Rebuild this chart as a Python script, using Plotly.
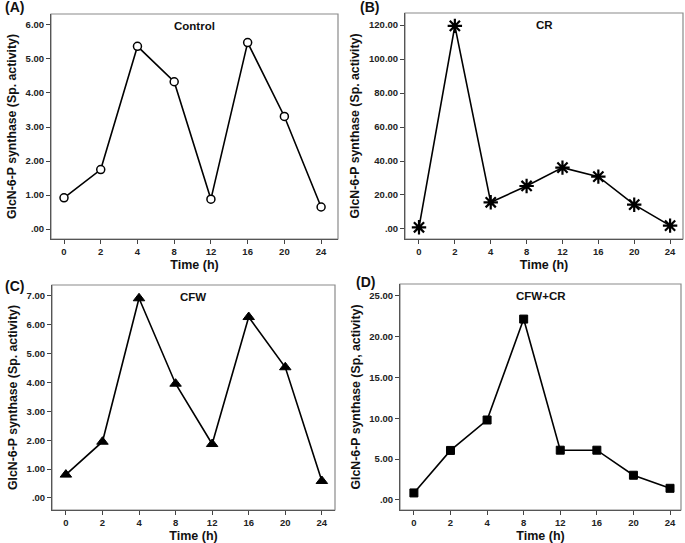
import plotly.graph_objects as go

W, H = 685, 543

times = ["0", "2", "4", "8", "12", "16", "20", "24"]
control = [0.92, 1.75, 5.37, 4.33, 0.88, 5.48, 3.31, 0.65]
cr = [1.0, 119.5, 15.7, 25.3, 36.1, 30.8, 14.3, 2.0]
cfw = [0.81, 1.95, 6.92, 3.96, 1.87, 6.27, 4.53, 0.59]
cfw_cr = [0.86, 6.07, 9.8, 22.17, 6.1, 6.1, 3.03, 1.43]

ticks_a = [0, 1, 2, 3, 4, 5, 6]
ticks_b = [0, 20, 40, 60, 80, 100, 120]
ticks_c = [0, 1, 2, 3, 4, 5, 6, 7]
ticks_d = [0, 5, 10, 15, 20, 25]

panel_titles = ["Control", "CR", "CFW", "CFW+CR"]
panel_letters = ["(A)", "(B)", "(C)", "(D)"]
ylabels = ["GlcN-6-P synthase (Sp. activity)", "GlcN-6-P synthase (Sp. activity)",
           "GlcN-6-P synthase (Sp. activity)", "GlcN-6-P synthase (Sp, activity)"]
xlabel = "Time (h)"


def fmt(v):
    s = f"{v:.2f}"
    return s[1:] if s.startswith("0") else s


FONT = "Liberation Sans, Arial, sans-serif"

# frame boxes in pixels: left, right, top, bottom
frames = [
    (51, 338, 14, 239),
    (405, 683, 13, 239),
    (52, 335, 285, 510),
    (400, 681, 284, 510),
]
xranges = [(-0.354, 7.46), (-0.39, 7.36), (-0.38, 7.36), (-0.38, 7.30)]
yranges = [(-0.29, 6.32), (-5.9, 127.1), (-0.416, 7.38), (-1.23, 26.47)]
series = [control, cr, cfw, cfw_cr]
tickset = [ticks_a, ticks_b, ticks_c, ticks_d]
markers = [
    dict(symbol="circle", size=8, color="white", line=dict(color="black", width=1.5)),
    dict(symbol="asterisk-open", size=12, color="black", line=dict(color="black", width=2.2)),
    dict(symbol="triangle-up", size=10, color="black", line=dict(color="black", width=1)),
    dict(symbol="square", size=8, color="black", line=dict(color="black", width=1)),
]
letter_pos = [(14, 7), (369, 7), (14, 286), (366, 282)]

fig = go.Figure()
annotations = []
shapes = []
for i in range(4):
    L, R, T, B = frames[i]
    sfx = "" if i == 0 else str(i + 1)
    fig.add_trace(go.Scatter(
        x=times, y=series[i], mode="lines+markers",
        line=dict(color="black", width=1.6),
        marker=markers[i], xaxis="x" + sfx, yaxis="y" + sfx,
        showlegend=False, cliponaxis=False,
    ))
    if i == 1:
        fig.add_trace(go.Scatter(
            x=times, y=series[i], mode="markers",
            marker=dict(symbol="circle", size=5, color="black"),
            xaxis="x" + sfx, yaxis="y" + sfx, showlegend=False, cliponaxis=False,
        ))
    axcommon = dict(showgrid=False, zeroline=False, ticks="outside", ticklen=4,
                    tickcolor="#444", tickwidth=1, showline=True, linecolor="#555",
                    linewidth=1, mirror=False,
                    tickfont=dict(family=FONT, size=9.5, color="#222", weight="bold"))
    fig.update_layout(**{
        "xaxis" + sfx: dict(
            domain=[L / W, R / W], anchor="y" + sfx, type="category",
            range=list(xranges[i]), categoryorder="array", categoryarray=times,
            title=dict(text=xlabel, standoff=3,
                       font=dict(family=FONT, size=12.5, color="#111", weight="bold")),
            **axcommon),
        "yaxis" + sfx: dict(
            domain=[1 - B / H, 1 - T / H], anchor="x" + sfx,
            range=list(yranges[i]), tickvals=tickset[i],
            ticktext=[fmt(v) for v in tickset[i]],
            title=dict(text=ylabels[i], standoff=6,
                       font=dict(family=FONT, size=12.3, color="#111", weight="bold")),
            **axcommon),
    })
    shapes.append(dict(type="rect", xref="paper", yref="paper",
                       x0=L / W, x1=R / W, y0=1 - B / H, y1=1 - T / H,
                       line=dict(color="#8a8a8a", width=1.2), layer="below"))
    annotations.append(dict(text=panel_titles[i], xref="paper", yref="paper",
                            x=(L + R) / 2 / W, y=1 - (T + 12) / H,
                            showarrow=False, xanchor="center", yanchor="middle",
                            font=dict(family=FONT, size=11.5, color="#111", weight="bold")))
    lx, ly = letter_pos[i]
    annotations.append(dict(text=panel_letters[i], xref="paper", yref="paper",
                            x=lx / W, y=1 - ly / H, showarrow=False,
                            xanchor="center", yanchor="middle",
                            font=dict(family=FONT, size=14, color="#111", weight="bold")))

fig.update_layout(width=W, height=H, margin=dict(l=0, r=0, t=0, b=0),
                  paper_bgcolor="white", plot_bgcolor="white",
                  annotations=annotations, shapes=shapes)
fig.write_html("out.html", config={"displayModeBar": False},
               post_script="document.body.style.margin='0';document.body.style.overflow='hidden';")
